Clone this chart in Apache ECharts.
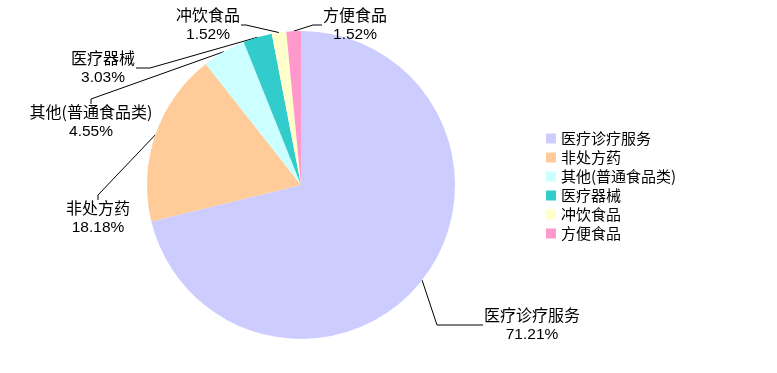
<!DOCTYPE html>
<html><head><meta charset="utf-8">
<script src="https://cdn.jsdelivr.net/npm/echarts@6/dist/echarts.min.js"></script>
<style>html,body{margin:0;padding:0;background:#fff}#c{width:777px;height:373px}</style>
</head><body><div id="c"></div>
<script>
// ---- data ----
const categories = ['医疗诊疗服务', '非处方药', '其他(普通食品类)', '医疗器械', '冲饮食品', '方便食品'];
const percentValues = [71.21, 18.18, 4.55, 3.03, 1.52, 1.52];
const sliceColors = ['#CCCCFF', '#FFCC99', '#CCFFFF', '#33CCCC', '#FFFFCC', '#FF99CC'];

// ---- label layout (positions only) ----
const labelCenters = [[532, 325], [98, 218], [91, 122], [103, 68], [208, 25], [355, 25]];
const labelSides = ['left', 'top', 'top', 'right', 'right', 'left'];
const labelTurns = [[437, 325], [98, 195], [91, 99], [150, 68], [246, 25], [313, 25]];

const PIE_CENTER = [301, 185];
const PIE_RADIUS = 154;

const chart = echarts.init(document.getElementById('c'), null, {renderer: 'canvas'});

chart.setOption({
  backgroundColor: '#ffffff',
  animation: false,
  legend: {
    orient: 'vertical',
    left: 546,
    top: 131,
    padding: 0,
    itemWidth: 10,
    itemHeight: 10,
    itemGap: 4,
    icon: 'rect',
    textStyle: {fontFamily: 'Noto Sans CJK SC', fontSize: 15, lineHeight: 15, color: '#000'},
    data: categories
  },
  series: [{
    type: 'pie',
    center: PIE_CENTER,
    radius: PIE_RADIUS,
    startAngle: 90,
    clockwise: true,
    avoidLabelOverlap: false,
    data: categories.map((n, i) => ({name: n, value: percentValues[i], itemStyle: {color: sliceColors[i]}})),
    itemStyle: {borderWidth: 0},
    label: {
      show: true,
      position: 'outside',
      align: 'center',
      formatter: p => '{n|' + p.name + '}\n{v|' + p.value.toFixed(2) + '%}',
      rich: {
        n: {fontFamily: 'Noto Sans CJK SC', fontSize: 16, lineHeight: 20, color: '#000'},
        v: {fontFamily: '"Liberation Sans", Arial, sans-serif', fontSize: 15.5, lineHeight: 20, color: '#000'}
      }
    },
    labelLine: {show: true, length: 10, length2: 10, smooth: false, lineStyle: {color: '#000', width: 1}},
    labelLayout: function (p) {
      const i = p.dataIndex;
      const c = labelCenters[i];
      const w = p.labelRect.width, h = p.labelRect.height;
      let end;
      if (labelSides[i] === 'left') end = [c[0] - w / 2 - 1, c[1]];
      else if (labelSides[i] === 'right') end = [c[0] + w / 2 + 1, c[1]];
      else end = [c[0], c[1] - h / 2];
      let start;
      if (p.labelLinePoints && p.labelLinePoints[0]) {
        start = p.labelLinePoints[0];
      } else {
        const total = percentValues.reduce((a, b) => a + b, 0);
        let cum = 0;
        for (let k = 0; k < i; k++) cum += percentValues[k];
        const mid = (cum + percentValues[i] / 2) / total * 2 * Math.PI;
        start = [PIE_CENTER[0] + PIE_RADIUS * Math.sin(mid), PIE_CENTER[1] - PIE_RADIUS * Math.cos(mid)];
      }
      return {
        x: c[0], y: c[1], align: 'center', verticalAlign: 'middle',
        labelLinePoints: [start, labelTurns[i], end]
      };
    }
  }]
});
</script>
</body></html>
